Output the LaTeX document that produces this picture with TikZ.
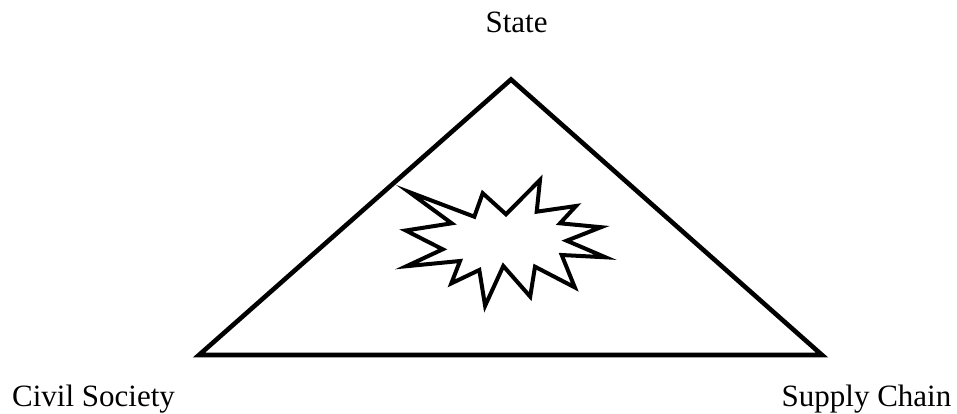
\documentclass[tikz,border=0pt]{standalone}
\usepackage{fontspec}
\setmainfont{Liberation Serif}
\begin{document}
\begin{tikzpicture}[x=1pt,y=-1pt,
  lbl/.style={inner sep=0pt,font=\fontsize{31}{36}\selectfont},
  tri/.style={line width=4.6pt,line join=miter},
  burst/.style={line width=4pt,line join=miter,miter limit=30}]
\useasboundingbox (0,0) rectangle (957,414);
\coordinate (apex) at (511,79.5);
\coordinate (bl) at (199,355);
\coordinate (br) at (822,355);
\draw[tri] (apex) -- (bl) -- (br) -- cycle;
\node[lbl,anchor=base] (state) at (516.5,33) {State};
\node[lbl,anchor=base west] (civil) at (12,406.5) {Civil Society};
\node[lbl,anchor=base east] (supply) at (951.5,406.5) {Supply Chain};
\draw[burst] (409,192) -- (474.3,216.7) -- (482.7,193.2) -- (506,214.3)
  -- (540,180) -- (536.7,211.7) -- (576,206) -- (560,223.3)
  -- (601,227.2) -- (566.7,240.7) -- (605.5,257.3) -- (561.7,255)
  -- (574.8,287.4) -- (535,266.7) -- (530.2,296.6) -- (503.3,266)
  -- (485.1,305.8) -- (479.3,270) -- (451.3,283.4) -- (460,261)
  -- (406.5,266.2) -- (442.7,249.3) -- (405.8,230.5) -- (451.7,223.3) -- cycle;
\end{tikzpicture}
\end{document}
